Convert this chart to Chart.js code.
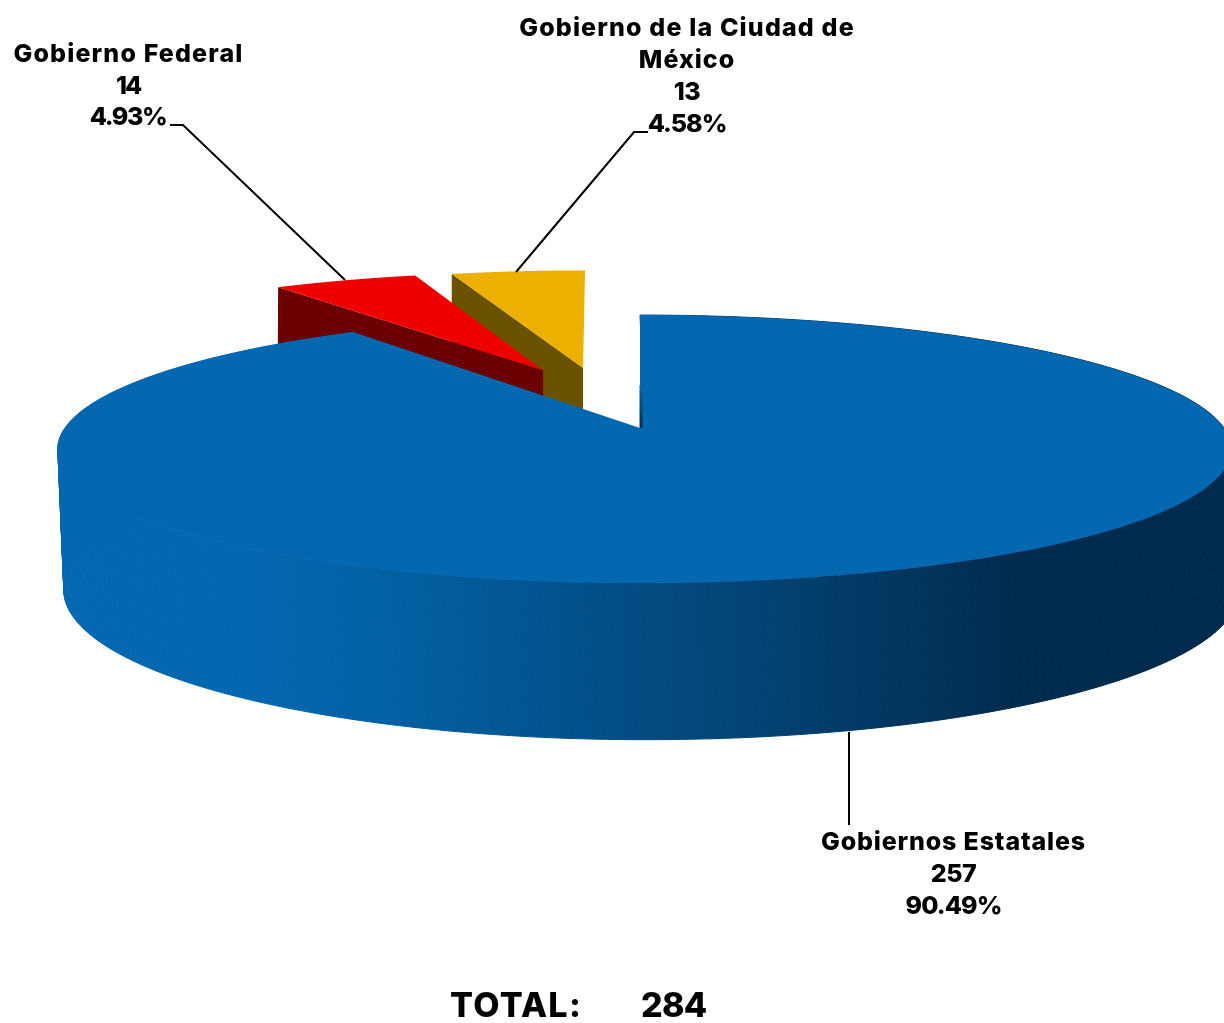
<!DOCTYPE html>
<html lang="es">
<head>
<meta charset="utf-8">
<title>Total: 284</title>
<script src="https://cdn.jsdelivr.net/npm/chart.js@4"></script>
<style>
    html, body { margin: 0; padding: 0; background: #fff; }
    canvas { display: block; }
</style>
</head>
<body>
<canvas id="grafica" width="1224" height="1023"></canvas>
<script>
// Datos
const categorias = ['Gobiernos Estatales', 'Gobierno Federal', 'Gobierno de la Ciudad de México'];
const valores = [257, 14, 13];
const porcentajes = ['90.49%', '4.93%', '4.58%'];
const total = 284;

const colores = ['#0468B1', '#EE0000', '#EBB000'];
const coloresLado = ['#012B4E', '#6B0000', '#6B5200'];

// Cuánto se separa cada rebanada del centro (en unidades del radio)
const sepVertice = [[0, 0], [-0.181, -0.474], [-0.1067, -0.4946]];
const sepBorde = [[0, 0], [-0.195, -0.47], [-0.118, -0.4875]];

// Perspectiva: cara superior y cara inferior del disco
const K = -0.157;
const caraSup = { x: 640, y: 428, a: 575, aDer: 584, b: 130.7 };
const caraInf = { x: 645, y: 566.5, a: 574, aDer: 587, b: 146 };
const caraInfRebanada = { x: 640, y: 566.5, a: 576, aDer: 576, b: 146 };

function proyectar(cara, u, v) {
    const w = 1 + K * v;
    const a = u > 0 ? cara.aDer : cara.a;
    return [cara.x + a * u / w, cara.y + cara.b * v / w];
}

function puntoBorde(cara, ang, sep) {
    return proyectar(cara, Math.cos(ang) + sep[0], Math.sin(ang) + sep[1]);
}

function borde(cara, arco, sep) {
    const pts = [];
    const pasos = 360;
    for (let i = 0; i <= pasos; i++) {
        const ang = arco.startAngle + (arco.endAngle - arco.startAngle) * i / pasos;
        pts.push(puntoBorde(cara, ang, sep));
    }
    return pts;
}

function trazar(ctx, pts) {
    ctx.beginPath();
    pts.forEach((p, i) => i ? ctx.lineTo(p[0], p[1]) : ctx.moveTo(p[0], p[1]));
}

function rellenar(ctx, pts, color) {
    trazar(ctx, pts);
    ctx.closePath();
    ctx.fillStyle = color;
    ctx.fill();
}

function linea(ctx, pts) {
    trazar(ctx, pts);
    ctx.lineWidth = 2;
    ctx.strokeStyle = '#000';
    ctx.stroke();
}

function texto(ctx, t, x, y, tam, esp, alinear) {
    ctx.font = '800 ' + tam + 'px Inter, "DejaVu Sans", sans-serif';
    ctx.letterSpacing = esp + 'px';
    ctx.fillStyle = '#000';
    ctx.textAlign = alinear || 'center';
    ctx.textBaseline = 'alphabetic';
    ctx.fillText(t, x, y);
}

// Dibuja el pastel en 3D con los ángulos que calcula Chart.js
const pastel3d = {
    id: 'pastel3d',
    beforeDatasetsDraw(chart) {
        const ctx = chart.ctx;
        const arcos = chart.getDatasetMeta(0).data;
        ctx.save();

        // primero oro, luego rojo: quedan detrás del azul
        [2, 1].forEach(i => {
            const arco = arcos[i];
            const sv = sepVertice[i];
            const sb = sepBorde[i];
            const vertSup = proyectar(caraSup, sv[0], sv[1]);
            const vertInf = proyectar(caraInfRebanada, sv[0], sv[1]);
            const bordeSup = puntoBorde(caraSup, arco.startAngle, sb);
            const bordeInf = puntoBorde(caraInfRebanada, arco.startAngle, sb);
            rellenar(ctx, [vertSup, bordeSup, bordeInf, vertInf], coloresLado[i]);
            rellenar(ctx, [vertSup].concat(borde(caraSup, arco, sb)), colores[i]);
        });

        // costado del disco azul
        const azul = arcos[0];
        const arriba = borde(caraSup, azul, sepBorde[0]);
        const abajo = borde(caraInf, azul, sepBorde[0]);
        const grad = ctx.createLinearGradient(58, 0, 1224, 0);
        grad.addColorStop(0, '#0468B1');
        grad.addColorStop(0.15, '#0468B1');
        grad.addColorStop(0.25, '#0363A8');
        grad.addColorStop(0.35, '#025A9A');
        grad.addColorStop(0.5, '#034C82');
        grad.addColorStop(0.65, '#023E6C');
        grad.addColorStop(0.82, '#012B4E');
        grad.addColorStop(1, '#012B4E');
        ctx.strokeStyle = grad;
        ctx.lineWidth = 1;
        for (let i = 0; i < arriba.length - 1; i++) {
            rellenar(ctx, [arriba[i], arriba[i + 1], abajo[i + 1], abajo[i]], grad);
            ctx.stroke();
        }

        rellenar(ctx, [proyectar(caraSup, 0, 0)].concat(arriba), colores[0]);

        // filo oscuro del corte
        const filo = ctx.createLinearGradient(0, 385, 0, 428);
        filo.addColorStop(0, '#0468B1');
        filo.addColorStop(1, coloresLado[0]);
        ctx.beginPath();
        ctx.moveTo(641, 385);
        ctx.lineTo(641, 428);
        ctx.lineWidth = 3;
        ctx.strokeStyle = filo;
        ctx.stroke();

        // líneas guía
        linea(ctx, [[170, 125], [183, 125], [345, 280]]);
        linea(ctx, [[648, 132], [634, 132], [516, 272]]);
        linea(ctx, [[849, 732], [849, 825]]);

        // etiquetas
        texto(ctx, categorias[1], 128.5, 62, 25, 1.15);
        texto(ctx, String(valores[1]), 128, 94, 25, -2);
        texto(ctx, porcentajes[1], 128, 125, 25, -1.4);

        texto(ctx, 'Gobierno de la Ciudad de', 687, 36, 25, 1.15);
        texto(ctx, 'México', 687, 68, 25, 1);
        texto(ctx, String(valores[2]), 687, 100, 25, -0.5);
        texto(ctx, porcentajes[2], 687, 132, 25, -1);

        texto(ctx, categorias[0], 953.5, 850, 25, 0.85);
        texto(ctx, String(valores[0]), 953.5, 882, 25, -0.5);
        texto(ctx, porcentajes[0], 953.5, 914, 25, -0.9);

        texto(ctx, 'TOTAL:', 450, 1017, 34, 1.3, 'left');
        texto(ctx, String(total), 641, 1017, 34, -0.7, 'left');

        ctx.restore();
        return false;
    }
};

new Chart(document.getElementById('grafica').getContext('2d'), {
    type: 'pie',
    data: {
        labels: categorias,
        datasets: [{ data: valores, backgroundColor: colores, borderWidth: 0 }]
    },
    options: {
        responsive: false,
        animation: false,
        plugins: { legend: { display: false }, tooltip: { enabled: false } }
    },
    plugins: [pastel3d]
});
</script>
</body>
</html>
